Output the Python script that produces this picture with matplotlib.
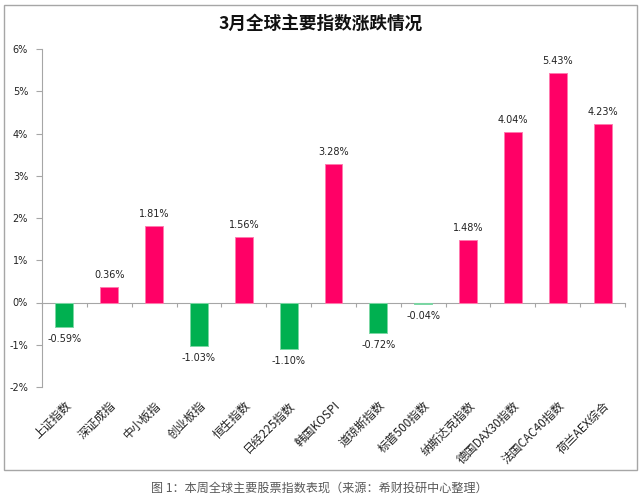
import matplotlib
matplotlib.use("Agg")
import matplotlib.pyplot as plt
from matplotlib.patches import Rectangle
import matplotlib.transforms as mtransforms
import numpy as np

plt.rcParams['font.family'] = ['Noto Sans CJK SC', 'DejaVu Sans']

categories = ['上证指数', '深证成指', '中小板指', '创业板指', '恒生指数', '日经225指数',
              '韩国KOSPI', '道琼斯指数', '标普500指数', '纳斯达克指数', '德国DAX30指数',
              '法国CAC40指数', '荷兰AEX综合']
values = [-0.59, 0.36, 1.81, -1.03, 1.56, -1.10, 3.28, -0.72, -0.04, 1.48, 4.04, 5.43, 4.23]
yticks = [-2, -1, 0, 1, 2, 3, 4, 5, 6]
title = '3月全球主要指数涨跌情况'
caption = '图 1：本周全球主要股票指数表现（来源：希财投研中心整理）'

fig = plt.figure(figsize=(6.41, 4.97), dpi=100)
fig.patches.append(Rectangle((4/641, 1-470/497), 633/641, 465/497, transform=fig.transFigure,
                             fill=False, edgecolor='#A6A6A6', linewidth=1.0))
ax = fig.add_axes([42/641, 1-387/497, 583/641, 338/497])

x = np.arange(len(categories))
colors = ['#00B050' if v < 0 else '#FF0066' for v in values]
edges = ['#7CD7A4' if v < 0 else '#FF7AAE' for v in values]
ax.bar(x, values, width=0.4, color=colors, edgecolor=edges, linewidth=0.7, zorder=3)

ax.set_xlim(-0.5, len(categories)-0.5)
ax.set_ylim(-2, 6)
ax.set_yticks(yticks)
ax.set_yticklabels([f'{t}%' for t in yticks], fontsize=7, color='#222222', family='DejaVu Sans')
ax.tick_params(axis='y', direction='out', length=4, color='#A6A6A6', pad=6)

for s in ['top', 'right']:
    ax.spines[s].set_visible(False)
ax.spines['left'].set_color('#A6A6A6')
ax.spines['bottom'].set_position(('data', 0))
ax.spines['bottom'].set_color('#A6A6A6')
ax.set_xticks(np.arange(len(categories)+1) - 0.5)
ax.set_xticklabels([])
ax.tick_params(axis='x', direction='out', length=3, color='#A6A6A6')

for xi, v in zip(x, values):
    if v >= 0:
        ax.annotate(f'{v:.2f}%', (xi, v), xytext=(0, 5), textcoords='offset points',
                    ha='center', va='bottom', fontsize=7, color='#222222', family='DejaVu Sans')
    else:
        ax.annotate(f'{v:.2f}%', (xi, v), xytext=(0, -5), textcoords='offset points',
                    ha='center', va='top', fontsize=7, color='#222222', family='DejaVu Sans')

trans = mtransforms.blended_transform_factory(ax.transData, ax.transAxes)
for xi, c in zip(x, categories):
    ax.text(xi + 0.0, -0.035, c, transform=trans, rotation=45, ha='right', va='top',
            rotation_mode='anchor', fontsize=8.5, color='#222222')

fig.text(321/641, 1-24/497, title, ha='center', va='center', fontsize=12.7,
         fontweight='bold', color='#111111')
fig.text(319/641, 1-488/497, caption, ha='center', va='center', fontsize=8.7, color='#595959')

fig.savefig('out.png', dpi=100)
